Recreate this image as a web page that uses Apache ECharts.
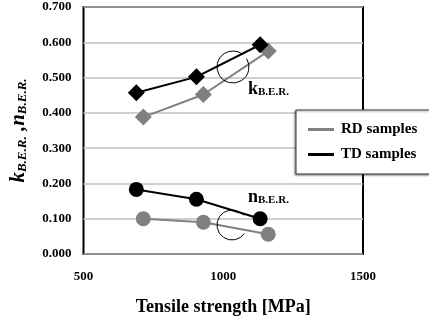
<!DOCTYPE html>
<html>
<head>
<meta charset="utf-8">
<script src="https://cdn.jsdelivr.net/npm/echarts@6/dist/echarts.min.js"></script>
<style>
html, body { margin: 0; padding: 0; background: #fff; }
#chart { width: 429px; height: 321px; }
</style>
</head>
<body>
<div id="chart"></div>
<script>
// tensile strength [MPa] for each sample set
const rdStrength = [714, 929, 1161];
const tdStrength = [689, 904, 1132];

// k and n values (B.E.R.)
const rdK = [0.388, 0.452, 0.575];
const tdK = [0.457, 0.502, 0.593];
const rdN = [0.100, 0.090, 0.056];
const tdN = [0.183, 0.155, 0.100];

const xTicks = [500, 1000, 1500];
const yTicks = [0, 0.1, 0.2, 0.3, 0.4, 0.5, 0.6, 0.7];

const serif = '"Liberation Serif", "DejaVu Serif", serif';
const RD = '#808080';
const TD = '#000000';

const pairs = (xs, ys) => xs.map((x, i) => [x, ys[i]]);

function makeSeries(name, xs, ys, color, symbol, size) {
    return {
        name: name,
        type: 'line',
        data: pairs(xs, ys),
        symbol: symbol,
        symbolSize: size,
        showSymbol: true,
        lineStyle: { color: color, width: 2 },
        itemStyle: { color: color },
        z: name === 'TD samples' ? 4 : 3,
        animation: false
    };
}

const subLabel = (letter) => ({
    text: '{b|' + letter + '}{s|B.E.R.}',
    rich: {
        b: { fontFamily: serif, fontWeight: 'bold', fontSize: 18, fill: '#000' },
        s: { fontFamily: serif, fontWeight: 'bold', fontSize: 11, fill: '#000', padding: [7, 0, 0, 0] }
    }
});

const chart = echarts.init(document.getElementById('chart'));
chart.setOption({
    animation: false,
    grid: {
        left: 82, top: 7, right: 66, bottom: 63,
        show: true, borderColor: '#000', borderWidth: 2
    },
    legend: {
        data: ['RD samples', 'TD samples'],
        orient: 'vertical',
        left: 303,
        top: 117,
        itemGap: 10,
        itemWidth: 26,
        itemHeight: 3,
        icon: 'rect',
        textStyle: { fontFamily: serif, fontWeight: 'bold', fontSize: 15, color: '#000', padding: [0, 0, 0, 2] },
        z: 20
    },
    xAxis: {
        type: 'value',
        min: xTicks[0], max: xTicks[xTicks.length - 1], interval: 500,
        axisLine: { show: false },
        axisTick: { show: false },
        splitLine: { show: false },
        axisLabel: {
            fontFamily: serif, fontWeight: 'bold', fontSize: 13, color: '#000', margin: 16,
            formatter: v => String(v)
        },
        name: 'Tensile strength [MPa]',
        nameLocation: 'middle',
        nameGap: 44,
        nameTextStyle: { fontFamily: serif, fontWeight: 'bold', fontSize: 18, color: '#000' }
    },
    yAxis: {
        type: 'value',
        min: yTicks[0], max: yTicks[yTicks.length - 1], interval: 0.1,
        axisLine: { show: false },
        axisTick: { show: false },
        splitLine: { show: true, lineStyle: { color: '#c0c0c0', width: 1.5 } },
        axisLabel: {
            fontFamily: serif, fontWeight: 'bold', fontSize: 13, color: '#000', margin: 12,
            formatter: v => v.toFixed(3)
        },
        name: '{k|k}{s|B.E.R.}{k| ,n}{s|B.E.R.}',
        nameLocation: 'middle',
        nameGap: 54,
        nameRotate: 90,
        nameTextStyle: {
            rich: {
                k: { fontFamily: serif, fontWeight: 'bold', fontStyle: 'italic', fontSize: 21, color: '#000' },
                s: { fontFamily: serif, fontWeight: 'bold', fontStyle: 'italic', fontSize: 13, color: '#000', padding: [9, 0, 0, 0] }
            }
        }
    },
    graphic: [
        {
            type: 'arc', z: 10,
            shape: { cx: 233, cy: 67, r: 16, startAngle: -0.55, endAngle: -0.95, clockwise: true },
            style: { stroke: '#000', lineWidth: 1, fill: null }
        },
        {
            type: 'arc', z: 10,
            shape: { cx: 232, cy: 225, r: 15, startAngle: 0.6, endAngle: -0.7, clockwise: true },
            style: { stroke: '#000', lineWidth: 1, fill: null }
        },
        { type: 'text', z: 10, left: 248, top: 80, style: subLabel('k') },
        { type: 'text', z: 10, left: 248, top: 188, style: subLabel('n') },
        {
            type: 'rect', z: 15,
            shape: { x: 296, y: 110, width: 140, height: 64 },
            style: {
                fill: '#fff', stroke: '#404040', lineWidth: 1,
                shadowColor: 'rgba(0,0,0,0.45)', shadowBlur: 2, shadowOffsetX: -1, shadowOffsetY: 1
            }
        }
    ],
    series: [
        makeSeries('RD samples', rdStrength, rdK, RD, 'diamond', 17),
        makeSeries('RD samples', rdStrength, rdN, RD, 'circle', 15),
        makeSeries('TD samples', tdStrength, tdK, TD, 'diamond', 17),
        makeSeries('TD samples', tdStrength, tdN, TD, 'circle', 15)
    ]
});
</script>
</body>
</html>
